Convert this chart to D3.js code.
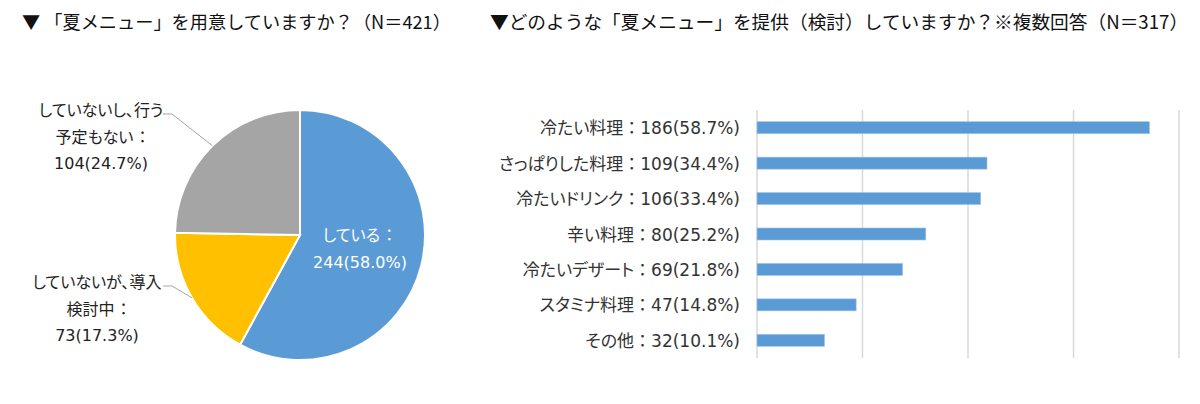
<!DOCTYPE html>
<html><head><meta charset="utf-8">
<script src="https://cdn.jsdelivr.net/npm/d3@7"></script>
<style>
body{margin:0;background:#fff;}
svg text{font-family:"DejaVu Sans","Noto Sans CJK JP",sans-serif;}
.palt{font-feature-settings:"palt";}
.full{font-feature-settings:normal;}
.title{font-family:"Noto Sans CJK JP",sans-serif;}
</style></head>
<body><svg id="c" width="1200" height="404"></svg>
<script>
// Pie data
const pieCategories = ["している", "していないが、導入検討中", "していないし、行う予定もない"];
const pieValues = [244, 73, 104];
const piePercents = ["58.0%", "17.3%", "24.7%"];
const pieColors = ["#5B9BD5", "#FFC000", "#A5A5A5"];

// Bar data
const barCategories = ["冷たい料理", "さっぱりした料理", "冷たいドリンク", "辛い料理", "冷たいデザート", "スタミナ料理", "その他"];
const barValues = [186, 109, 106, 80, 69, 47, 32];
const barPercents = ["58.7%", "34.4%", "33.4%", "25.2%", "21.8%", "14.8%", "10.1%"];
const barTicks = [0, 50, 100, 150, 200];

const svg = d3.select("#c");

// Titles
svg.append("text").attr("class", "title").attr("x", 22).attr("y", 29).attr("font-size", 18.2).attr("fill", "#111")
  .text("▼ 「夏メニュー」を用意していますか？（N＝421）");
svg.append("text").attr("class", "title").attr("x", 490).attr("y", 29).attr("font-size", 18.7).attr("fill", "#111")
  .text("▼どのような「夏メニュー」を提供（検討）していますか？※複数回答（N＝317）");

// Pie
const cx = 300, cy = 235, R = 125;
const pie = d3.pie().sort(null).value(d => d)(pieValues);
const arc = d3.arc().innerRadius(0).outerRadius(R);
const g = svg.append("g").attr("transform", `translate(${cx},${cy})`);
g.selectAll("path").data(pie).join("path")
  .attr("d", arc).attr("fill", (d, i) => pieColors[i])
  .attr("stroke", "#fff").attr("stroke-width", 2);

// Inside label for slice 0
const lab0 = svg.append("text").attr("fill", "#fff").attr("font-size", 16).attr("text-anchor", "middle");
lab0.append("tspan").attr("x", 358).attr("y", 241).attr("class", "palt").text(pieCategories[0] + " ：");
lab0.append("tspan").attr("x", 360).attr("y", 268).text(`${pieValues[0]}(${piePercents[0]})`);

// Outside labels with leader lines
const outside = [
  {i: 2, lines: ["していないし、行う", "予定もない ：", `${pieValues[2]}(${piePercents[2]})`], x: 101, y: 116, lx: 163, ly: 114},
  {i: 1, lines: ["していないが、導入", "検討中 ：", `${pieValues[1]}(${piePercents[1]})`], x: 97, y: 288, lx: 163, ly: 286}
];
outside.forEach(o => {
  const a = (pie[o.i].startAngle + pie[o.i].endAngle) / 2;
  const px = cx + R * Math.sin(a), py = cy - R * Math.cos(a);
  svg.append("path").attr("d", `M${o.lx},${o.ly}L${o.lx + 9},${o.ly}L${px},${py}`)
    .attr("fill", "none").attr("stroke", "#A6A6A6").attr("stroke-width", 1);
  o.lines.forEach((l, k) => {
    svg.append("text").attr("fill", "#222").attr("font-size", 16).attr("text-anchor", "middle")
      .attr("class", k < 2 ? "palt" : null)
      .attr("x", o.x).attr("y", o.y + k * 26.5).text(l);
  });
});

// Bar chart
const x = d3.scaleLinear().domain([0, 200]).range([757, 1179]);
const y = d3.scaleBand().domain(barCategories).range([110, 358]).paddingInner(0).paddingOuter(0);
const bh = 12;

svg.append("g").selectAll("line").data(barTicks).join("line")
  .attr("x1", d => x(d)).attr("x2", d => x(d)).attr("y1", 110).attr("y2", 358)
  .attr("stroke", "#D9D9D9").attr("stroke-width", 1.5);

svg.append("g").selectAll("rect").data(barValues).join("rect")
  .attr("x", x(0)).attr("y", (d, i) => y(barCategories[i]) + y.bandwidth() / 2 - bh / 2)
  .attr("width", d => x(d) - x(0)).attr("height", bh)
  .attr("fill", "#5B9BD5").attr("stroke", "#9DC3E6").attr("stroke-width", 0.6);

barCategories.forEach((c, i) => {
  const t = svg.append("text").attr("x", 740).attr("y", y(c) + y.bandwidth() / 2 + 6.5)
    .attr("text-anchor", "end").attr("font-size", 17).attr("fill", "#333");
  t.append("tspan").attr("class", "palt").text(c);
  t.append("tspan").attr("class", "full").text("：");
  t.append("tspan").text(`${barValues[i]}(${barPercents[i]})`);
});
</script></body></html>
